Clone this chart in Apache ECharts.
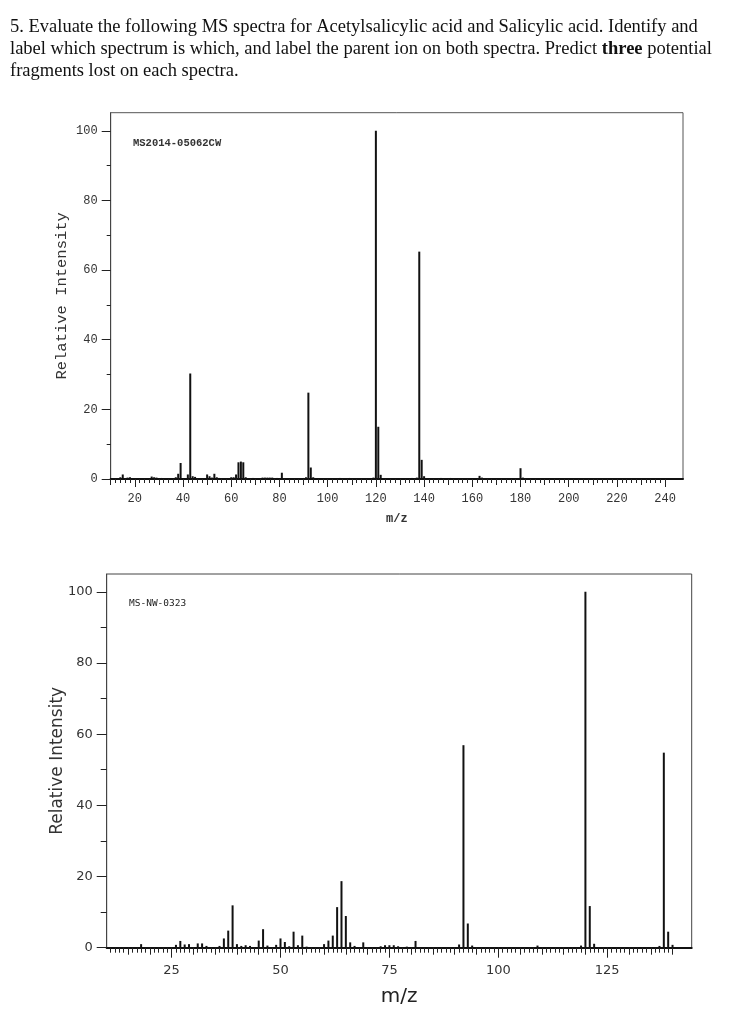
<!DOCTYPE html>
<html>
<head>
<meta charset="utf-8">
<script src="https://cdn.jsdelivr.net/npm/echarts@6/dist/echarts.min.js"></script>
<style>
html,body{margin:0;padding:0;background:#fff;}
#chart{width:753px;height:1024px;}
</style>
</head>
<body>
<div id="chart"></div>
<script>
// ---------- Data ----------
const questionLines = [
  "5. Evaluate the following MS spectra for Acetylsalicylic acid and Salicylic acid. Identify and",
  "label which spectrum is which, and label the parent ion on both spectra. Predict {b|three} potential",
  "fragments lost on each spectra."
];

// Top spectrum (MS2014-05062CW)
const topTag = "MS2014-05062CW";
const topMz =        [14, 15, 17, 18, 27, 28, 29, 31, 37, 38, 39, 42, 43, 44, 45, 50, 51, 52, 53, 54, 55, 60, 61, 62, 63, 64, 65, 66, 69, 73, 74, 75, 76, 77, 79, 81, 90, 91, 92, 93, 94, 105, 109, 119, 120, 121, 122, 135, 137, 138, 139, 140, 147, 151, 163, 164, 180, 181];
const topIntensity = [0.5, 1.3, 0.4, 0.5, 0.7, 0.5, 0.4, 0.3, 0.5, 1.5, 4.6, 1.3, 30.3, 0.8, 0.6, 1.3, 0.8, 0.4, 1.5, 0.5, 0.3, 0.5, 0.5, 1.3, 4.8, 5.0, 4.8, 0.5, 0.3, 0.4, 0.4, 0.4, 0.4, 0.4, 0.3, 1.8, 0.3, 0.5, 24.8, 3.3, 0.5, 0.3, 0.3, 0.4, 100, 15.0, 1.2, 0.3, 0.4, 65.3, 5.5, 0.8, 0.3, 0.3, 0.9, 0.4, 3.1, 0.4];
const topXLabels = [20, 40, 60, 80, 100, 120, 140, 160, 180, 200, 220, 240];
const topYLabels = [0, 20, 40, 60, 80, 100];

// Bottom spectrum (MS-NW-0323)
const botTag = "MS-NW-0323";
const botMz =        [18, 26, 27, 28, 29, 31, 32, 33, 36, 37, 38, 39, 40, 41, 42, 43, 45, 46, 47, 49, 50, 51, 52, 53, 54, 55, 56, 60, 61, 62, 63, 64, 65, 66, 67, 69, 73, 74, 75, 76, 77, 79, 81, 91, 92, 93, 94, 109, 119, 120, 121, 122, 137, 138, 139, 140];
const botIntensity = [1.0, 0.8, 1.9, 0.9, 1.0, 1.2, 1.2, 0.5, 0.5, 2.6, 4.8, 11.9, 1.0, 0.5, 0.7, 0.5, 2.0, 5.2, 0.6, 0.8, 2.6, 1.6, 0.4, 4.5, 0.7, 3.4, 0.3, 1.0, 2.0, 3.4, 11.4, 18.7, 8.9, 1.5, 0.5, 1.5, 0.4, 0.7, 0.7, 0.7, 0.4, 0.3, 1.9, 0.9, 56.9, 6.8, 0.6, 0.6, 0.6, 100, 11.7, 1.1, 0.5, 54.8, 4.5, 0.8];
const botXLabels = [25, 50, 75, 100, 125];
const botYLabels = [0, 20, 40, 60, 80, 100];

// ---------- Helpers ----------
function range(a, b, step) { const r = []; for (let v = a; v <= b + 1e-9; v += step) r.push(v); return r; }

const mono = "'Liberation Mono', 'DejaVu Sans Mono', monospace";
const sans = "'DejaVu Sans', Verdana, sans-serif";
const serif = "'Liberation Serif', 'Times New Roman', serif";

const topRange = { xmin: 10, xmax: 247.4, ymax: 105.2 };
const botRange = { xmin: 10.1, xmax: 144.4, ymax: 105.0 };

function tickAxis(gridIndex, type, min, max, values, len, opts) {
  const base = {
    type: 'value', gridIndex: gridIndex, min: min, max: max,
    splitLine: { show: false },
    axisLine: { show: false },
    axisTick: { show: true, customValues: values, length: len, lineStyle: { color: '#222', width: 1 } },
    axisLabel: { show: false }
  };
  base.position = (type === 'x') ? 'bottom' : 'left';
  return Object.assign(base, opts || {});
}

const xAxes = [
  // top chart
  tickAxis(0, 'x', topRange.xmin, topRange.xmax, topXLabels, 8, {
    axisLine: { show: true, lineStyle: { color: '#111', width: 2 } },
    axisLabel: { show: true, customValues: topXLabels, fontFamily: mono, fontSize: 12, color: '#333', margin: 14 },
    name: 'm/z', nameLocation: 'middle', nameGap: 34,
    nameTextStyle: { fontFamily: mono, fontSize: 12, color: '#333', fontWeight: 'bold' }
  }),
  tickAxis(0, 'x', topRange.xmin, topRange.xmax, range(10, 240, 2), 4),
  tickAxis(0, 'x', topRange.xmin, topRange.xmax, range(10, 240, 10), 6),
  // bottom chart
  tickAxis(1, 'x', botRange.xmin, botRange.xmax, botXLabels, 10, {
    axisLine: { show: true, lineStyle: { color: '#111', width: 2 } },
    axisLabel: { show: true, customValues: botXLabels, fontFamily: sans, fontSize: 13, color: '#333', margin: 16 },
    name: 'm/z', nameLocation: 'middle', nameGap: 39,
    nameTextStyle: { fontFamily: sans, fontSize: 20, color: '#222' }
  }),
  tickAxis(1, 'x', botRange.xmin, botRange.xmax, range(11, 140, 1), 5),
  tickAxis(1, 'x', botRange.xmin, botRange.xmax, range(15, 140, 5), 7)
];

const yAxes = [
  tickAxis(0, 'y', 0, topRange.ymax, topYLabels, 9, {
    axisLine: { show: true, lineStyle: { color: '#444', width: 1 } },
    axisLabel: { show: true, customValues: topYLabels, fontFamily: mono, fontSize: 12, color: '#333', margin: 13 },
    name: 'Relative Intensity', nameLocation: 'middle', nameGap: 41, nameMoveOverlap: false,
    nameTextStyle: { fontFamily: mono, fontSize: 15.5, color: '#333' }
  }),
  tickAxis(0, 'y', 0, topRange.ymax, range(10, 90, 20), 4),
  tickAxis(1, 'y', 0, botRange.ymax, botYLabels, 10, {
    axisLine: { show: true, lineStyle: { color: '#444', width: 1 } },
    axisLabel: { show: true, customValues: botYLabels, fontFamily: sans, fontSize: 13, color: '#333', margin: 14 },
    name: 'Relative Intensity', nameLocation: 'middle', nameGap: 41, nameMoveOverlap: false,
    nameTextStyle: { fontFamily: sans, fontSize: 17, color: '#333' }
  }),
  tickAxis(1, 'y', 0, botRange.ymax, range(10, 90, 20), 6)
];

const chart = echarts.init(document.getElementById('chart'), null, { renderer: 'canvas' });
chart.setOption({
  backgroundColor: '#fff',
  animation: false,
  grid: [
    { left: 110.7, top: 112.7, width: 572.3, height: 366.3, show: true, borderColor: '#555', borderWidth: 1, backgroundColor: 'transparent' },
    { left: 106.7, top: 574, width: 585, height: 373.7, show: true, borderColor: '#444', borderWidth: 1, backgroundColor: 'transparent' }
  ],
  xAxis: xAxes,
  yAxis: yAxes,
  graphic: [
    { type: 'text', left: 10, top: 16, style: {
        text: questionLines.join('\n'), fontFamily: serif,
        fontSize: 18.5, lineHeight: 22, fill: '#111',
        rich: { b: { fontFamily: serif, fontSize: 18.5, fontWeight: 'bold', fill: '#111', lineHeight: 22 } }
      } },
    { type: 'text', left: 133, top: 138, style: { text: topTag, fontFamily: mono, fontSize: 10.5, fontWeight: 'bold', fill: '#333' } },
    { type: 'text', left: 129, top: 599, style: { text: botTag, fontFamily: "'DejaVu Sans Mono', monospace", fontSize: 9.5, fill: '#222' } }
  ],
  series: [
    { type: 'bar', xAxisIndex: 0, yAxisIndex: 0, barWidth: 2, itemStyle: { color: '#111' },
      data: topMz.map((m, i) => [m, topIntensity[i]]) },
    { type: 'bar', xAxisIndex: 3, yAxisIndex: 2, barWidth: 2, itemStyle: { color: '#111' },
      data: botMz.map((m, i) => [m, botIntensity[i]]) }
  ]
});
</script>
</body>
</html>
